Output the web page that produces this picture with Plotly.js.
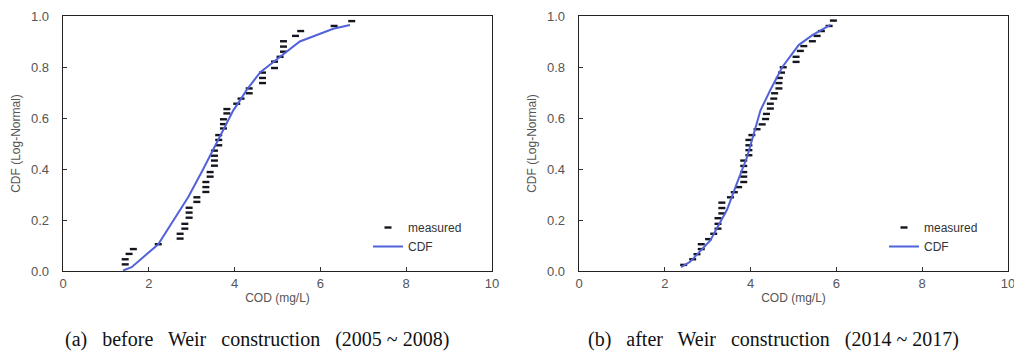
<!DOCTYPE html>
<html>
<head>
<meta charset="utf-8">
<script src="https://cdn.plot.ly/plotly-3.0.1.min.js"></script>
<style>
html,body{margin:0;padding:0;background:#fff;}
#chart{width:1014px;height:355px;}
</style>
</head>
<body>
<div id="chart"></div>
<script>
// (a) before Weir construction (2005 ~ 2008)
const measuredA_x = [1.45,1.45,1.54,1.64,2.22,2.73,2.73,2.84,2.84,2.94,2.94,2.94,3.12,3.12,3.33,3.33,3.33,3.43,3.43,3.53,3.53,3.53,3.53,3.63,3.63,3.63,3.74,3.74,3.74,3.82,3.82,4.05,4.15,4.34,4.34,4.65,4.65,4.65,4.93,4.93,5.06,5.14,5.14,5.14,5.42,5.54,6.32,6.73];
const measuredA_y = [0.026,0.046,0.067,0.086,0.105,0.127,0.146,0.166,0.185,0.209,0.229,0.248,0.271,0.289,0.310,0.329,0.349,0.370,0.388,0.413,0.433,0.452,0.472,0.493,0.514,0.533,0.559,0.576,0.595,0.618,0.635,0.656,0.676,0.697,0.716,0.737,0.757,0.778,0.796,0.821,0.840,0.860,0.880,0.901,0.922,0.941,0.961,0.980];
const cdfA_x = [1.40,1.60,2.22,2.65,2.92,3.27,3.45,3.58,3.74,3.97,4.13,4.28,4.60,4.90,5.52,6.30,6.69];
const cdfA_y = [0.002,0.015,0.105,0.220,0.290,0.400,0.460,0.500,0.555,0.630,0.670,0.710,0.780,0.820,0.900,0.950,0.965];

// (b) after Weir construction (2014 ~ 2017)
const measuredB_x = [2.44,2.65,2.75,2.85,2.85,3.02,3.14,3.24,3.24,3.24,3.33,3.33,3.33,3.53,3.62,3.72,3.84,3.84,3.84,3.84,3.84,3.96,3.96,3.96,3.96,4.03,4.15,4.27,4.35,4.37,4.46,4.46,4.54,4.56,4.66,4.66,4.67,4.72,4.76,5.06,5.06,5.16,5.24,5.44,5.55,5.65,5.83,5.93];
const measuredB_y = [0.024,0.046,0.066,0.086,0.105,0.125,0.146,0.166,0.185,0.207,0.226,0.247,0.268,0.289,0.309,0.329,0.349,0.370,0.388,0.412,0.433,0.454,0.474,0.493,0.514,0.533,0.556,0.575,0.596,0.616,0.637,0.656,0.676,0.697,0.716,0.737,0.757,0.778,0.799,0.820,0.840,0.863,0.882,0.901,0.922,0.941,0.961,0.982];
const cdfB_x = [2.38,2.59,3.06,3.45,3.68,3.92,4.07,4.23,4.46,4.74,5.12,5.44,5.86];
const cdfB_y = [0.015,0.036,0.120,0.240,0.344,0.448,0.535,0.630,0.710,0.800,0.886,0.925,0.965];

const xTickVals = [0,2,4,6,8,10];
const yTickVals = [0,0.2,0.4,0.6,0.8,1.0];
const xTitle = 'COD (mg/L)';
const yTitle = 'CDF (Log-Normal)';
const seriesNames = ['measured','CDF'];
const G = '\u00a0\u00a0 ';
const captions = ['(a)' + G + 'before' + G + 'Weir' + G + 'construction' + G + '(2005 ~ 2008)',
                  '(b)' + G + 'after' + G + 'Weir' + G + 'construction' + G + '(2014 ~ 2017)'];

const W = 1014, H = 355;
const lineColor = '#5262d8';
const markColor = '#15151f';
const tickFont = {family:'Liberation Sans, Arial, sans-serif', size:13, color:'#555'};

function mk(x, y, xa, ya, leg){
  return [
    {x:x.m, y:y.m, xaxis:xa, yaxis:ya, type:'scatter', mode:'markers', name:seriesNames[0], legend:leg,
     marker:{symbol:'line-ew', size:5, color:markColor, line:{color:markColor, width:2.4}}},
    {x:x.c, y:y.c, xaxis:xa, yaxis:ya, type:'scatter', mode:'lines', name:seriesNames[1], legend:leg,
     line:{color:lineColor, width:2}}
  ];
}

const data = [
  ...mk({m:measuredA_x,c:cdfA_x},{m:measuredA_y,c:cdfA_y},'x','y','legend'),
  ...mk({m:measuredB_x,c:cdfB_x},{m:measuredB_y,c:cdfB_y},'x2','y2','legend2')
];

function xax(dom, anchor){
  return {domain:dom, anchor:anchor, range:[0,10], tickvals:xTickVals, ticks:'inside', ticklen:4,
    tickcolor:'#333', showline:true, linecolor:'#222', linewidth:1.3, mirror:true, showgrid:false,
    zeroline:false, tickfont:tickFont, ticklabeloverflow:'allow',
    title:{text:xTitle, font:{family:'Liberation Sans, Arial, sans-serif', size:12, color:'#555'}, standoff:3}};
}
function yax(dom, anchor){
  return {domain:dom, anchor:anchor, range:[0,1], tickvals:yTickVals, tickformat:'.1f', ticks:'inside', ticklen:4,
    tickcolor:'#333', showline:true, linecolor:'#222', linewidth:1.3, mirror:true, showgrid:false,
    zeroline:false, tickfont:tickFont, ticklabelstandoff:10, ticklabeloverflow:'allow',
    title:{text:yTitle, font:{family:'Liberation Sans, Arial, sans-serif', size:12, color:'#555'}, standoff:7}};
}

const yDom = [1-271/H, 1-16/H];
const legFont = {family:'Liberation Sans, Arial, sans-serif', size:12, color:'#333'};
const layout = {
  width:W, height:H, margin:{l:0,r:0,t:0,b:0}, paper_bgcolor:'#fff', plot_bgcolor:'#fff',
  showlegend:true,
  xaxis: xax([63/W, 492/W], 'y'),
  yaxis: yax(yDom, 'x'),
  xaxis2: xax([579/W, 1008/W], 'y2'),
  yaxis2: yax(yDom, 'x2'),
  legend: {x:368/W, y:1-213/H, xanchor:'left', yanchor:'top', bgcolor:'rgba(0,0,0,0)', font:legFont, tracegroupgap:0},
  legend2: {x:884/W, y:1-213/H, xanchor:'left', yanchor:'top', bgcolor:'rgba(0,0,0,0)', font:legFont, tracegroupgap:0},
  annotations: [
    {text:captions[0], xref:'paper', yref:'paper', x:257/W, y:1-339/H, xanchor:'center', yanchor:'middle', showarrow:false,
     font:{family:'Liberation Serif, Times New Roman, serif', size:20, color:'#111'}},
    {text:captions[1], xref:'paper', yref:'paper', x:773/W, y:1-339/H, xanchor:'center', yanchor:'middle', showarrow:false,
     font:{family:'Liberation Serif, Times New Roman, serif', size:20, color:'#111'}}
  ]
};

Plotly.newPlot('chart', data, layout, {displayModeBar:false, staticPlot:true});
</script>
</body>
</html>
